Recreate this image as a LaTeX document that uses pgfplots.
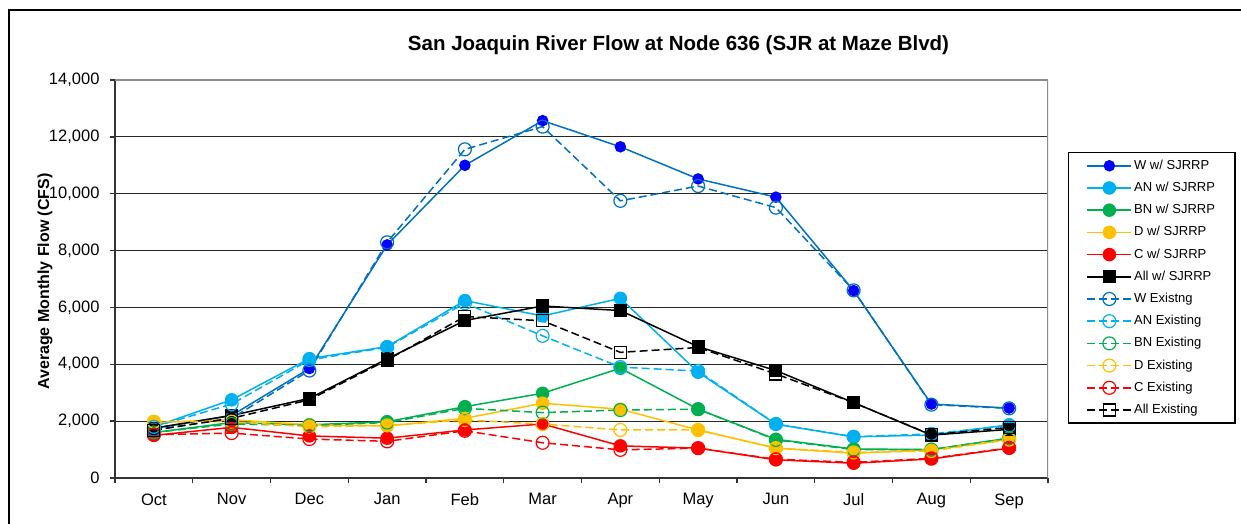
\documentclass[border=0pt]{standalone}
\usepackage{fontspec}
\setmainfont{Liberation Sans}
\usepackage{pgfplots}
\usepackage{pgfplotstable}
\pgfplotsset{compat=1.18}

\definecolor{wline}{RGB}{0,112,192}
\definecolor{wfill}{RGB}{0,0,255}
\definecolor{anc}{RGB}{0,176,240}
\definecolor{bnc}{RGB}{0,176,80}
\definecolor{dc}{RGB}{255,192,0}
\definecolor{cc}{RGB}{255,0,0}

\pgfplotstableread{
x Ww ANw BNw Dw Cw Allw We ANe BNe De Ce Alle
0 1750 1800 1600 1950 1500 1750 1700 1800 1600 1980 1520 1680
1 2200 2750 1950 2050 1780 2200 2100 2600 1900 1980 1580 2100
2 3850 4200 1870 1870 1480 2800 3780 4150 1850 1800 1370 2750
3 8200 4620 1980 1830 1400 4190 8290 4600 1950 1850 1290 4150
4 11000 6240 2510 2100 1690 5540 11560 6150 2450 2040 1660 5680
5 12570 5700 2980 2630 1900 6050 12360 5000 2300 1900 1240 5530
6 11650 6320 3860 2420 1130 5890 9750 3900 2390 1690 990 4420
7 10520 3720 2420 1690 1050 4620 10270 3760 2420 1690 1050 4590
8 9880 1890 1360 1050 640 3780 9510 1900 1340 1050 660 3660
9 6590 1450 1020 870 520 2650 6600 1450 1000 900 550 2650
10 2600 1510 1000 990 670 1510 2580 1550 1000 950 690 1520
11 2460 1870 1400 1360 1050 1710 2450 1850 1400 1350 1060 1780
}\flowdata

\begin{document}
\begin{tikzpicture}
\path[use as bounding box] (0pt,0pt) rectangle (1241pt,524pt);
\draw[black, line width=1.2pt] (9pt,514pt) rectangle (1260pt,-20pt);
\begin{axis}[
  at={(115pt,46pt)}, anchor=south west,
  scale only axis, width=933pt, height=398pt,
  xmin=-0.5, xmax=11.5, ymin=0, ymax=14000,
  axis lines=left, axis line style={-, line width=1.3pt, black!80},
  xtick={-0.5,0.5,1.5,2.5,3.5,4.5,5.5,6.5,7.5,8.5,9.5,10.5,11.5},
  x tick label as interval,
  xticklabels={Oct,Nov,Dec,Jan,Feb,Mar,Apr,May,Jun,Jul,Aug,Sep},
  ytick={0,2000,4000,6000,8000,10000,12000,14000},
  scaled y ticks=false,
  yticklabel={\pgfmathprintnumber[1000 sep={,},assume math mode=true]{\tick}},
  tick align=outside, major tick length=5pt,
  tick style={line width=1.3pt, black!80},
  ymajorgrids, grid style={line width=1pt, black!85},
  ticklabel style={font=\fontsize{16.5}{18}\selectfont},
  yticklabel style={xshift=-7pt},
  xticklabel style={yshift=-7pt},
  ylabel={Average Monthly Flow (CFS)},
  ylabel style={at={(axis description cs:-0.075,0.4937)}, anchor=center, font=\fontsize{16}{18}\selectfont\bfseries},
  title={San Joaquin River Flow at Node 636 (SJR at Maze Blvd)},
  title style={at={(axis description cs:0.604,1.073)}, anchor=center, font=\fontsize{20.5}{23}\selectfont\bfseries},
  legend style={at={(axis description cs:1.0214,0.819)}, anchor=north west,
    draw=black, line width=1.3pt, fill=white,
    font=\fontsize{13}{15}\selectfont, inner xsep=18pt, inner ysep=2pt,
    row sep=0pt,
    nodes={inner ysep=4.6pt, text height=10pt, text depth=3pt}},
  legend cell align=left,
  legend image code/.code={\draw[mark repeat=2,mark phase=2] plot coordinates {(0pt,0pt)(22pt,0pt)(44pt,0pt)};},
  every axis plot/.append style={line width=1.5pt},
]
\addplot[wline, mark=*, mark size=5pt, mark options={fill=wfill, draw=wfill, solid}] table[x=x,y=Ww] {\flowdata};
\addlegendentry{W w/ SJRRP}
\addplot[anc, mark=*, mark size=6pt, mark options={fill=anc, solid}] table[x=x,y=ANw] {\flowdata};
\addlegendentry{AN w/ SJRRP}
\addplot[bnc, mark=*, mark size=6pt, mark options={fill=bnc, solid}] table[x=x,y=BNw] {\flowdata};
\addlegendentry{BN w/ SJRRP}
\addplot[dc, mark=*, mark size=6pt, mark options={fill=dc, solid}] table[x=x,y=Dw] {\flowdata};
\addlegendentry{D w/ SJRRP}
\addplot[cc, mark=*, mark size=6pt, mark options={fill=cc, solid}] table[x=x,y=Cw] {\flowdata};
\addlegendentry{C w/ SJRRP}
\addplot[black, mark=square*, mark size=5.8pt, mark options={fill=black, solid}] table[x=x,y=Allw] {\flowdata};
\addlegendentry{All w/ SJRRP}
\addplot[wline, dash pattern=on 8pt off 4pt, mark=o, mark size=6.5pt, mark options={solid, line width=1.2pt}] table[x=x,y=We] {\flowdata};
\addlegendentry{W Existng}
\addplot[anc, dash pattern=on 8pt off 4pt, mark=o, mark size=6.5pt, mark options={solid, line width=1.2pt}] table[x=x,y=ANe] {\flowdata};
\addlegendentry{AN Existing}
\addplot[bnc, dash pattern=on 8pt off 4pt, mark=o, mark size=6.5pt, mark options={solid, line width=1.2pt}] table[x=x,y=BNe] {\flowdata};
\addlegendentry{BN Existing}
\addplot[dc, dash pattern=on 8pt off 4pt, mark=o, mark size=6.5pt, mark options={solid, line width=1.2pt}] table[x=x,y=De] {\flowdata};
\addlegendentry{D Existing}
\addplot[cc, dash pattern=on 8pt off 4pt, mark=o, mark size=6.5pt, mark options={solid, line width=1.2pt}] table[x=x,y=Ce] {\flowdata};
\addlegendentry{C Existing}
\addplot[black, dash pattern=on 8pt off 4pt, mark=square, mark size=6pt, mark options={solid, line width=1.2pt}] table[x=x,y=Alle] {\flowdata};
\addlegendentry{All Existing}
\draw[black!45, line width=1.3pt] (axis description cs:0,1) -- (axis description cs:1,1) -- (axis description cs:1,0);
\end{axis}
\end{tikzpicture}
\end{document}
